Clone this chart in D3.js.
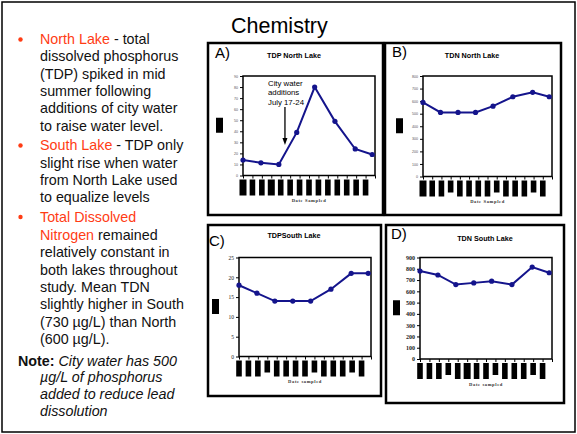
<!DOCTYPE html>
<html>
<head>
<meta charset="utf-8">
<script src="https://cdn.jsdelivr.net/npm/d3@7"></script>
<style>
  html, body { margin: 0; padding: 0; background: #fff; }
  svg { display: block; }
</style>
</head>
<body>
<svg id="chart" width="577" height="434"></svg>
<script>
// ---------------- data ----------------
// sample positions on the date axis (in tick units, 14 tick intervals)
const samplePos = [0, 1.9, 3.8, 5.7, 7.6, 9.75, 11.9, 13.7];
const tdpNorth = [14, 11.5, 10, 39, 80, 49, 24, 19];
const tdnNorth = [590, 510, 510, 510, 560, 635, 670, 635];
const tdpSouth = [18, 16, 14, 14, 14, 17, 21, 21];
const tdnSouth = [780, 745, 660, 675, 690, 660, 815, 765];
const tdpNorthTicks = [0, 10, 20, 30, 40, 50, 60, 70, 80, 90];
const tdnNorthTicks = [0, 100, 200, 300, 400, 500, 600, 700, 800];
const tdpSouthTicks = [0, 5, 10, 15, 20, 25];
const tdnSouthTicks = [0, 100, 200, 300, 400, 500, 600, 700, 800, 900];
const dateTicks = d3.range(0, 15);            // 15 tick marks on the date axis
const dateLabelIdx = d3.range(0, 14);         // 14 (unreadable, blacked-out) date labels
const panelTitles = ["TDP North Lake", "TDN North Lake", "TDPSouth Lake", "TDN South Lake"];
const panelLetters = ["A)", "B)", "C)", "D)"];
const xAxisTitles = ["Date Sampled", "Date Sampled", "Date sampled", "Date sampled"];
const annotationLines = ["City water", "additions", "July 17-24"];

const svg = d3.select("#chart");
const lineColor = "#14148c";
const orange = "#ff3c14";

// outer slide frame
svg.append("rect").attr("x", 2).attr("y", 2).attr("width", 573).attr("height", 430)
  .attr("fill", "none").attr("stroke", "#000").attr("stroke-width", 1.5);

// title
svg.append("text").attr("x", 231).attr("y", 33)
  .attr("font-family", "Liberation Sans, Arial, sans-serif").attr("font-size", 21.5)
  .text("Chemistry");

// ---------------- left text ----------------
const textFont = "Liberation Sans, Arial, sans-serif";
const tx = svg.append("g").attr("font-family", textFont).attr("font-size", 14.3).attr("fill", "#111");
function bullet(y) {
  tx.append("circle").attr("cx", 20.5).attr("cy", y - 4.5).attr("r", 2.2).attr("fill", orange);
}
function line(y, parts, x = 40) {
  const t = tx.append("text").attr("x", x).attr("y", y);
  parts.forEach(p => {
    const s = t.append("tspan").text(p[0]);
    if (p[1]) s.attr("fill", p[1]);
    if (p[2]) s.attr("font-weight", p[2]);
    if (p[3]) s.attr("font-style", p[3]);
  });
}
bullet(44);
line(44, [["North Lake", orange], [" - total"]]);
line(61, [["dissolved phosphorus"]]);
line(78.5, [["(TDP) spiked in mid"]]);
line(95.5, [["summer following"]]);
line(113, [["additions of city water"]]);
line(130.5, [["to raise water level."]]);
bullet(150);
line(150, [["South Lake", orange], [" - TDP only"]]);
line(167.5, [["slight rise when water"]]);
line(184.5, [["from North Lake used"]]);
line(202, [["to equalize levels"]]);
bullet(221.5);
line(221.5, [["Total Dissolved", orange]]);
line(239.5, [["Nitrogen", orange], [" remained"]]);
line(257, [["relatively constant in"]]);
line(274.5, [["both lakes throughout"]]);
line(291.5, [["study. Mean TDN"]]);
line(309, [["slightly higher in South"]]);
line(326.5, [["(730 µg/L) than North"]]);
line(344, [["(600 µg/L)."]]);
line(365.5, [["Note:", null, "bold"], [" "], ["City water has 500", null, null, "italic"]], 18);
line(382, [["µg/L of phosphorus", null, null, "italic"]]);
line(399, [["added to reduce lead", null, null, "italic"]]);
line(416, [["dissolution", null, null, "italic"]]);

// ---------------- panels ----------------
const panels = [
  { frame: [208, 43, 175, 172], plot: [243, 76, 132, 99.5], values: tdpNorth, ticks: tdpNorthTicks,
    max: 90, title: [294, 58], letter: [215, 57.5], tickFont: 3.6, tickFamily: "Liberation Sans, Arial",
    shortLabels: [], wideLabels: [0, 3] },
  { frame: [385, 43, 176, 172], plot: [423, 76, 129, 100.5], values: tdnNorth, ticks: tdnNorthTicks,
    max: 800, title: [472, 58], letter: [392, 56.5], tickFont: 3.6, tickFamily: "Liberation Sans, Arial",
    shortLabels: [3, 8, 12], wideLabels: [0] },
  { frame: [208, 225, 173, 171], plot: [239, 257.5, 132, 99], values: tdpSouth, ticks: tdpSouthTicks,
    max: 25, title: [294, 237.5], letter: [209, 245.5], tickFont: 5.5, tickFamily: "Liberation Serif, Times New Roman, serif",
    shortLabels: [3, 8, 12], wideLabels: [] },
  { frame: [386, 225, 178, 178], plot: [420, 257.5, 132, 101.5], values: tdnSouth, ticks: tdnSouthTicks,
    max: 900, title: [485, 240.5], letter: [391, 238.5], tickFont: 6, tickFamily: "Liberation Serif, Times New Roman, serif",
    shortLabels: [3, 8, 12], wideLabels: [5] }
];

panels.forEach((p, i) => {
  const g = svg.append("g");
  const [fx, fy, fw, fh] = p.frame;
  const [px, py, pw, ph] = p.plot;

  g.append("rect").attr("x", fx).attr("y", fy).attr("width", fw).attr("height", fh)
    .attr("fill", "#fff").attr("stroke", "#000").attr("stroke-width", 2.5);

  g.append("text").attr("x", p.letter[0]).attr("y", p.letter[1])
    .attr("font-family", textFont).attr("font-size", 15).text(panelLetters[i]);

  g.append("text").attr("x", p.title[0]).attr("y", p.title[1]).attr("text-anchor", "middle")
    .attr("font-family", textFont).attr("font-size", 7.2).attr("font-weight", "bold")
    .text(panelTitles[i]);

  const x = d3.scaleLinear().domain([0, 14]).range([px, px + pw]);
  const y = d3.scaleLinear().domain([0, p.max]).range([py + ph, py]);

  // y axis
  const yAxis = d3.axisLeft(y).tickValues(p.ticks).tickSize(3).tickPadding(2).tickFormat(d3.format("d"));
  const ya = g.append("g").attr("transform", `translate(${px},0)`).call(yAxis);
  ya.select(".domain").remove();
  ya.selectAll("line").attr("stroke", "#000").attr("stroke-width", 1);
  ya.selectAll("text").attr("font-size", p.tickFont).attr("font-family", p.tickFamily)
    .attr("font-weight", i === 3 ? "bold" : "normal").attr("fill", i < 2 ? "#555" : "#222");

  // x axis ticks
  const xAxis = d3.axisBottom(x).tickValues(dateTicks).tickSize(3).tickFormat("");
  const xa = g.append("g").attr("transform", `translate(0,${py + ph})`).call(xAxis);
  xa.select(".domain").remove();
  xa.selectAll("line").attr("stroke", "#000").attr("stroke-width", 1);

  // blacked-out date labels
  g.selectAll("rect.lab").data(dateLabelIdx).join("rect").attr("class", "lab")
    .attr("x", d => x(d) - (p.wideLabels.includes(d) ? 3.5 : 2.8))
    .attr("y", py + ph + 4)
    .attr("width", d => p.wideLabels.includes(d) ? 7 : 5.6)
    .attr("height", d => p.shortLabels.includes(d) ? 12 : 16)
    .attr("fill", "#000");

  // blacked-out y-axis title
  g.append("rect").attr("x", px - 27).attr("y", y(p.max * 0.5) - 8).attr("width", 7).attr("height", 15)
    .attr("fill", "#000");

  // x axis title
  g.append("text").attr("x", px + pw / 2).attr("y", py + ph + 26.5).attr("text-anchor", "middle")
    .attr("font-family", "Liberation Serif, Times New Roman, serif").attr("font-size", 4.6)
    .attr("font-weight", "bold").attr("letter-spacing", 0.6).attr("fill", "#333")
    .text(xAxisTitles[i]);

  // plot frame
  g.append("rect").attr("x", px).attr("y", py).attr("width", pw).attr("height", ph)
    .attr("fill", "none").attr("stroke", "#000").attr("stroke-width", 1.5);

  // line + markers
  const pts = samplePos.map((s, k) => [s, p.values[k]]);
  g.append("path").datum(pts)
    .attr("d", d3.line().x(d => x(d[0])).y(d => y(d[1])))
    .attr("fill", "none").attr("stroke", lineColor).attr("stroke-width", 2);
  g.selectAll("circle.m").data(pts).join("circle").attr("class", "m")
    .attr("cx", d => x(d[0])).attr("cy", d => y(d[1])).attr("r", 2.6).attr("fill", lineColor);

  if (i === 0) {
    const an = g.append("g").attr("font-family", textFont).attr("font-size", 7.8);
    an.append("text").attr("x", 268).attr("y", 86).text(annotationLines[0]);
    an.append("text").attr("x", 268).attr("y", 95).text(annotationLines[1]);
    an.append("text").attr("x", 268).attr("y", 105).text(annotationLines[2]);
    const ax = x(samplePos[2] + 0.65);
    g.append("line").attr("x1", ax).attr("x2", ax).attr("y1", 107).attr("y2", 140)
      .attr("stroke", "#000").attr("stroke-width", 1.3);
    g.append("path").attr("d", `M${ax - 2.5},138 L${ax + 2.5},138 L${ax},145 Z`).attr("fill", "#000");
  }
});
</script>
</body>
</html>
